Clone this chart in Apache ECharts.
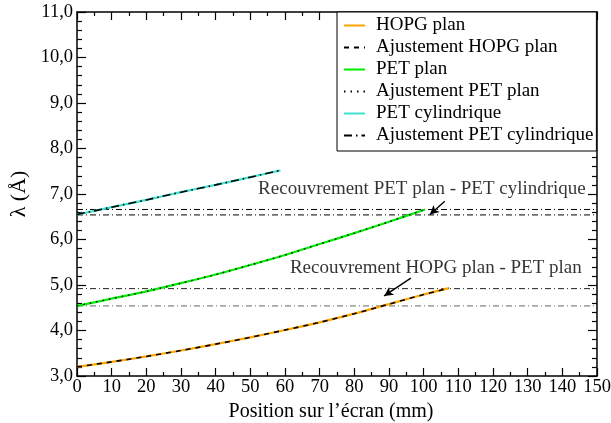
<!DOCTYPE html>
<html>
<head>
<meta charset="utf-8">
<script src="https://cdn.jsdelivr.net/npm/echarts@6/dist/echarts.min.js"></script>
<style>
  html, body { margin: 0; padding: 0; background: #ffffff; }
  #chart { width: 611px; height: 423px; }
</style>
</head>
<body>
<div id="chart"></div>
<script>
// Wavelength versus position on the screen for each crystal configuration
const hopgX    = [0, 10, 20, 30, 40, 50, 60, 70, 80, 90, 100, 107.3];
const hopgY    = [3.20, 3.31, 3.43, 3.56, 3.70, 3.85, 4.01, 4.18, 4.37, 4.58, 4.79, 4.93];
const petPlanX = [0, 10, 20, 30, 40, 50, 60, 70, 80, 90, 100, 100.4];
const petPlanY = [4.54, 4.70, 4.86, 5.04, 5.23, 5.44, 5.66, 5.90, 6.14, 6.39, 6.65, 6.66];
const petCylX  = [0, 10, 20, 30, 40, 50, 58.7];
const petCylY  = [6.55, 6.71, 6.87, 7.04, 7.20, 7.37, 7.52];

// Horizontal levels bounding the overlap regions
const overlapLevels = [6.66, 6.54, 4.92, 4.54];
const overlapColors = ['#000000', '#000000', '#222222', '#666666'];

// Axis ranges
const xMin = 0, xMax = 150, xStep = 10;
const yMin = 3, yMax = 11, yStep = 1;

// Annotations (text anchor and arrow, in data units)
const notes = [
  { text: 'Recouvrement PET plan - PET cylindrique', at: [99.5, 7.12], from: [106.1, 6.84], to: [101.8, 6.55] },
  { text: 'Recouvrement HOPG plan - PET plan',       at: [103.5, 5.37], from: [96.3, 5.15], to: [88.6, 4.76] }
];

const FONT = "'Liberation Serif', 'Times New Roman', serif";
const zip = (xs, ys) => xs.map((x, i) => [x, ys[i]]);

function curve(name, xs, ys, color, width, type, z) {
  return {
    name, type: 'line', data: zip(xs, ys), xAxisIndex: 0, yAxisIndex: 0,
    showSymbol: false, symbol: 'none', smooth: 0.3, z,
    lineStyle: { color, width, type }, itemStyle: { color },
    animation: false
  };
}

const series = [];

overlapLevels.forEach((v, i) => {
  series.push({
    type: 'line', data: [[xMin, v], [xMax, v]], symbol: 'none', silent: true, z: 1,
    lineStyle: { color: overlapColors[i], width: 1, type: [6, 3, 1, 3] },
    animation: false
  });
});

series.push(curve('HOPG plan', hopgX, hopgY, '#FFA500', 2.2, 'solid', 2));
series.push(curve('Ajustement HOPG plan', hopgX, hopgY, '#000000', 1.6, [5, 5], 3));
series.push(curve('PET plan', petPlanX, petPlanY, '#00EE00', 2.2, 'solid', 2));
series.push(curve('Ajustement PET plan', petPlanX, petPlanY, '#000000', 1.4, [1.5, 5], 3));
series.push(curve('PET cylindrique', petCylX, petCylY, '#40E0D0', 2.2, 'solid', 2));
series.push(curve('Ajustement PET cylindrique', petCylX, petCylY, '#000000', 1.6, [8, 4, 1.5, 4], 3));

series.push({
  type: 'scatter', silent: true, z: 5,
  symbolSize: 0, itemStyle: { color: '#000' },
  data: notes.map(n => ({ value: n.at, text: n.text })),
  label: {
    show: true, position: 'inside', color: '#000',
    fontFamily: FONT, fontSize: 19,
    formatter: p => p.data.text
  },
  markLine: {
    silent: true, symbol: ['none', 'arrow'], symbolSize: [7, 9],
    label: { show: false },
    lineStyle: { color: '#000', width: 1.4, type: 'solid' },
    data: notes.map(n => [{ coord: n.from }, { coord: n.to }]),
    animation: false
  },
  animation: false
});

const axisLine = { show: true, onZero: false, lineStyle: { color: '#000', width: 1.5 } };
const tickStyle = { color: '#000', width: 1.2 };

const chart = echarts.init(document.getElementById('chart'), null, { renderer: 'canvas' });
chart.setOption({
  backgroundColor: '#ffffff',
  animation: false,
  grid: { left: 77, right: 14, top: 12, bottom: 47, containLabel: false, outerBoundsMode: 'none' },
  legend: {
    data: ['HOPG plan', 'Ajustement HOPG plan', 'PET plan', 'Ajustement PET plan',
           'PET cylindrique', 'Ajustement PET cylindrique'],
    orient: 'vertical', left: 337, top: 12,
    backgroundColor: '#ffffff', borderColor: '#000', borderWidth: 1,
    padding: [4, 3, 6, 6],
    itemWidth: 21, itemHeight: 14, itemGap: 3,
    itemStyle: { opacity: 0 },
    textStyle: { fontFamily: FONT, fontSize: 19, color: '#000', lineHeight: 19, padding: [0, 0, 0, 6] },
    selectedMode: false
  },
  xAxis: [
    {
      type: 'value', min: xMin, max: xMax, interval: xStep, position: 'bottom',
      name: 'Position sur l\u2019écran (mm)', nameLocation: 'middle', nameGap: 22,
      nameTextStyle: { fontFamily: FONT, fontSize: 20, color: '#000', padding: [0, 12, 0, 0] },
      axisLine, splitLine: { show: false },
      axisTick: { inside: true, length: 8, lineStyle: tickStyle },
      minorTick: { show: true, splitNumber: 2, length: 4, lineStyle: tickStyle },
      axisLabel: { fontFamily: FONT, fontSize: 18.5, color: '#000', margin: 2 }
    },
    {
      type: 'value', min: xMin, max: xMax, interval: xStep, position: 'top',
      axisLine, splitLine: { show: false },
      axisTick: { inside: true, length: 8, lineStyle: tickStyle },
      minorTick: { show: true, splitNumber: 2, length: 4, lineStyle: tickStyle },
      axisLabel: { show: false }
    }
  ],
  yAxis: [
    {
      type: 'value', min: yMin, max: yMax, interval: yStep, position: 'left',
      name: 'λ (Å)', nameLocation: 'middle', nameGap: 36, nameRotate: 90,
      nameTextStyle: { fontFamily: FONT, fontSize: 22, color: '#000' },
      axisLine, splitLine: { show: false },
      axisTick: { inside: true, length: 9, lineStyle: tickStyle },
      minorTick: { show: true, splitNumber: 5, length: 5, lineStyle: tickStyle },
      axisLabel: { fontFamily: FONT, fontSize: 18.5, color: '#000', margin: 4,
                   formatter: v => v.toFixed(1).replace('.', ',') }
    },
    {
      type: 'value', min: yMin, max: yMax, interval: yStep, position: 'right',
      axisLine, splitLine: { show: false },
      axisTick: { inside: true, length: 9, lineStyle: tickStyle },
      minorTick: { show: true, splitNumber: 5, length: 5, lineStyle: tickStyle },
      axisLabel: { show: false }
    }
  ],
  series
});
</script>
</body>
</html>
